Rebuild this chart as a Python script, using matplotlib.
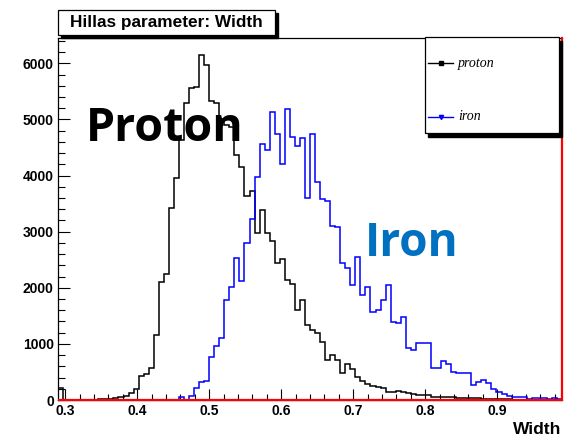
import numpy as np
import matplotlib
matplotlib.use("Agg")
import matplotlib.pyplot as plt
from matplotlib.patches import Rectangle
from matplotlib.lines import Line2D

# ---------------- data ----------------
x_min, x_max, n_bins = 0.29, 0.99, 100

proton = [210, 0, 0, 0, 0, 0, 0, 0, 20, 10,
          20, 40, 55, 80, 120, 200, 430, 460, 565, 1150,
          2110, 2240, 3420, 3960, 4640, 5290, 5560, 5580, 6145, 5965,
          5330, 5300, 5000, 4900, 4860, 4375, 4150, 3631, 3720, 2976,
          3393, 2976, 2835, 2440, 2515, 2143, 2060, 1610, 1775, 1330,
          1245, 1200, 1042, 720, 795, 714, 476, 637, 550, 410,
          335, 290, 255, 225, 205, 135, 150, 165, 140, 120,
          100, 95, 90, 85, 50, 45, 50, 45, 50, 40,
          35, 30, 35, 30, 25, 20, 20, 15, 12, 10,
          8, 6, 5, 5, 4, 3, 3, 2, 2, 1]

iron = [0, 0, 0, 0, 0, 0, 0, 0, 0, 0,
        0, 0, 0, 0, 0, 0, 0, 0, 0, 0,
        0, 0, 0, 0, 60, 0, 70, 215, 315, 340,
        774, 955, 1110, 1783, 2018, 2524, 2113, 2790, 3230, 3976,
        4571, 4464, 5135, 4750, 4210, 5180, 4695, 4524, 4673, 3601,
        4747, 3893, 3577, 3542, 3100, 3080, 2440, 2345, 2042, 2542,
        1875, 2006, 1562, 1613, 1786, 2042, 1399, 1381, 1488, 923,
        893, 1012, 1024, 1020, 565, 565, 699, 646, 506, 476,
        476, 476, 268, 327, 357, 298, 200, 150, 100, 70,
        60, 60, 60, 15, 40, 40, 30, 25, 30, 20]

other = [0] * n_bins  # third (red) histogram, empty in range

x_ticks = [0.3, 0.4, 0.5, 0.6, 0.7, 0.8, 0.9]
y_ticks = [0, 1000, 2000, 3000, 4000, 5000, 6000]

title = "Hillas parameter: Width"
x_title = "Width"
legend_labels = ["proton", "iron"]

# ---------------- figure ----------------
W, H = 569, 437
fig = plt.figure(figsize=(W / 100, H / 100), dpi=100)
fig.patch.set_facecolor("white")

def fx(px):
    return px / W

def fy(py):
    return 1 - py / H

ax = fig.add_axes([fx(58), fy(400), fx(562) - fx(58), fy(38) - fy(400)])
ax.set_facecolor("white")

edges = np.linspace(x_min, x_max, n_bins + 1)
ax.stairs(proton, edges, color="black", lw=1.1, zorder=3)
ax.stairs(iron, edges, color="#0000ff", lw=1.1, zorder=3)
ax.stairs(other, edges, color="red", lw=1.6, zorder=4, clip_on=False)
ax.axvline(x_max, color="red", lw=1.6, zorder=4, clip_on=False)

ymax = 1.05 * max(max(proton), max(iron))
ax.set_xlim(x_min, x_max)
ax.set_ylim(0, ymax)

lab_font = dict(family=["Liberation Sans", "DejaVu Sans"], weight="bold", size=10)
ax.set_xticks(x_ticks)
ax.set_xticklabels([f"{v:.1f}" for v in x_ticks], fontdict=lab_font)
ax.set_xticks(np.arange(0.30, 0.99, 0.02), minor=True)
ax.set_yticks(y_ticks)
ax.set_yticklabels([str(v) for v in y_ticks], fontdict=lab_font)
ax.set_yticks(np.arange(0, ymax, 200), minor=True)

ax.tick_params(axis="x", which="major", direction="in", length=7.7, width=0.8, pad=3)
ax.tick_params(axis="x", which="minor", direction="in", length=4.1, width=0.8)
ax.tick_params(axis="y", which="major", direction="in", length=8.4, width=0.8, pad=3)
ax.tick_params(axis="y", which="minor", direction="in", length=4.8, width=0.8)

for s in ["left", "top"]:
    ax.spines[s].set_color("black")
    ax.spines[s].set_linewidth(0.9)
ax.spines["right"].set_visible(False)
ax.spines["bottom"].set_color("black")
ax.spines["bottom"].set_linewidth(0.9)

# axis title
fig.text(fx(561), fy(434), x_title, ha="right", va="baseline",
         family=["Liberation Sans", "DejaVu Sans"], weight="bold", size=12.5)

# title box with shadow
sh = 3
fig.patches.append(Rectangle((fx(58 + sh), fy(35 + sh)), fx(275) - fx(58), fy(10) - fy(35),
                             transform=fig.transFigure, facecolor="black", edgecolor="black",
                             zorder=5))
fig.patches.append(Rectangle((fx(58), fy(35)), fx(275) - fx(58), fy(10) - fy(35),
                             transform=fig.transFigure, facecolor="white", edgecolor="black",
                             lw=0.9, zorder=6))
fig.text(fx(166.5), fy(23), title, ha="center", va="center", zorder=7,
         family=["Liberation Sans", "DejaVu Sans"], weight="bold", size=12.4)

# legend box with shadow
lx0, lx1, ly0, ly1 = 425, 559, 37, 133
fig.patches.append(Rectangle((fx(lx0 + 3), fy(ly1 + 4)), fx(lx1) - fx(lx0), fy(ly0) - fy(ly1),
                             transform=fig.transFigure, facecolor="black", edgecolor="black",
                             zorder=5))
fig.patches.append(Rectangle((fx(lx0), fy(ly1)), fx(lx1) - fx(lx0), fy(ly0) - fy(ly1),
                             transform=fig.transFigure, facecolor="white", edgecolor="black",
                             lw=0.9, zorder=6))
leg_rows = [(63, "black", "s", 2.2), (117, "#0000ff", "v", 3.0)]
for (ry, col, mk, ms), lab in zip(leg_rows, legend_labels):
    fig.lines.append(Line2D([fx(428), fx(453)], [fy(ry), fy(ry)], transform=fig.transFigure,
                            color=col, lw=1.0, zorder=7))
    fig.lines.append(Line2D([fx(441)], [fy(ry)], transform=fig.transFigure, color=col,
                            marker=mk, markersize=ms, zorder=7))
    fig.text(fx(458), fy(ry), lab, ha="left", va="center", zorder=7,
             family=["Liberation Serif", "DejaVu Serif"], style="italic", size=10)

# big annotations
fig.text(fx(86), fy(141), "Proton", ha="left", va="baseline", color="black",
         family=["Open Sans", "DejaVu Sans"], weight="bold", size=33.5, zorder=8)
fig.text(fx(365), fy(256), "Iron", ha="left", va="baseline", color="#0070C0",
         family=["Open Sans", "DejaVu Sans"], weight="bold", size=33, zorder=8)

fig.savefig("out.png", dpi=100, facecolor="white")
